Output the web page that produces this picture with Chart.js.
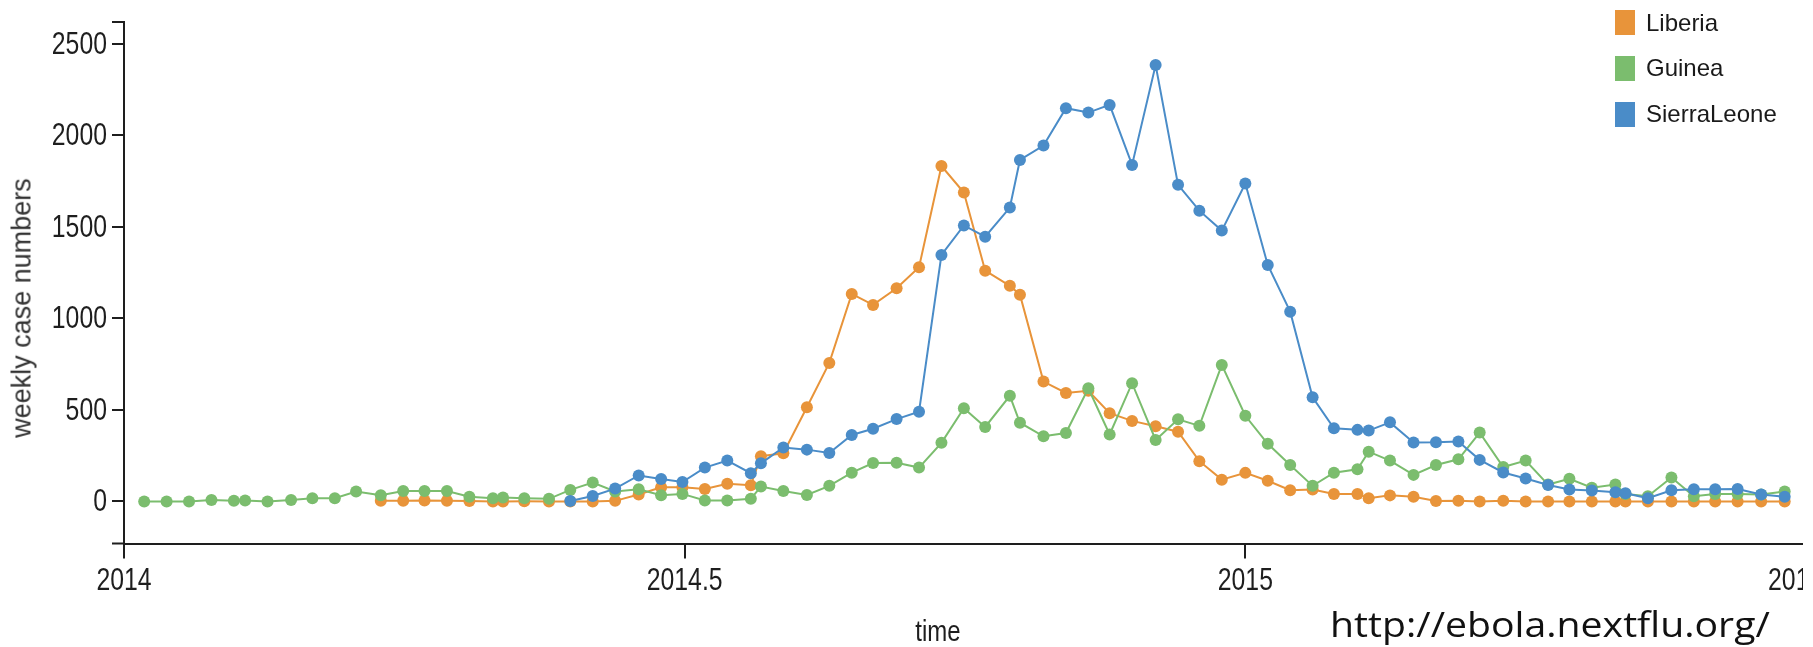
<!DOCTYPE html>
<html>
<head>
<meta charset="utf-8">
<title>Weekly Ebola case numbers</title>
<script src="https://cdn.jsdelivr.net/npm/chart.js@4.4.1/dist/chart.umd.min.js"></script>
<style>
  html, body { margin: 0; padding: 0; background: #fff; overflow: hidden; }
  #stage { position: relative; width: 1813px; height: 647px; }
  #clip { position: absolute; left: 0; top: 0; width: 1803px; height: 647px; overflow: hidden; }
  #plot { position: absolute; left: 0; top: 0; width: 1860px; height: 647px; }
  #ytitle {
    position: absolute; left: 22px; top: 308px;
    transform: translate(-50%, -50%) rotate(-90deg);
    font: 27px "Liberation Sans", Arial, sans-serif; color: #333; white-space: nowrap;
  }
  #xtitle {
    position: absolute; left: 938px; top: 614px; transform: translateX(-50%) scaleX(0.8);
    font: 30px "Liberation Sans", Arial, sans-serif;
    color: #1e1e1e; white-space: nowrap;
  }
  #legend { position: absolute; left: 1615px; top: 10px; }
  .item {
    position: absolute; left: 0; display: flex; align-items: center; height: 25px;
    font: 24px "Liberation Sans", Arial, sans-serif; color: #1a1a1a; white-space: nowrap;
  }
  .swatch { width: 20px; height: 25px; margin-right: 11px; flex: none; }
  #source {
    position: absolute; left: 1330px; top: 600px; transform-origin: left top; transform: scaleX(1.12);
    font: 35px "Open Sans", "Noto Sans", sans-serif; color: #111; white-space: nowrap;
  }
</style>
</head>
<body>
<div id="stage">
  <div id="clip"><div id="plot"><canvas id="chart"></canvas></div></div>
  <div id="ytitle">weekly case numbers</div>
  <div id="xtitle">time</div>
  <div id="legend"></div>
  <div id="source">http://ebola.nextflu.org/</div>
</div>
<script>
// Report dates (decimal years) shared by all three countries
const weeks = [
  2014.018, 2014.038, 2014.058, 2014.078, 2014.098, 2014.108, 2014.128, 2014.149, 2014.168, 2014.188,
  2014.207, 2014.229, 2014.249, 2014.268, 2014.288, 2014.308, 2014.329, 2014.338, 2014.357, 2014.379,
  2014.398, 2014.418, 2014.438, 2014.459, 2014.479, 2014.498, 2014.518, 2014.538, 2014.559, 2014.568,
  2014.588, 2014.609, 2014.629, 2014.649, 2014.668, 2014.689, 2014.709, 2014.729, 2014.749, 2014.768,
  2014.790, 2014.799, 2014.820, 2014.840, 2014.860, 2014.879, 2014.899, 2014.920, 2014.940, 2014.959,
  2014.979, 2015.000, 2015.020, 2015.040, 2015.060, 2015.079, 2015.100, 2015.110, 2015.129, 2015.150,
  2015.170, 2015.190, 2015.209, 2015.230, 2015.250, 2015.270, 2015.289, 2015.309, 2015.330, 2015.339,
  2015.359, 2015.380, 2015.400, 2015.419, 2015.439, 2015.460, 2015.481
];

// Weekly case counts per country (null = not yet reported)
const liberia = [
  null, null, null, null, null, null, null, null, null, null,
  null, 3, 4, 5, 3, 2, 0, 0, 1, 0,
  0, 0, 3, 38, 77, 77, 68, 97, 88, 247,
  263, 515, 757, 1134, 1074, 1165, 1280, 1833, 1688, 1261,
  1178, 1130, 655, 593, 605, 482, 440, 411, 381, 220,
  119, 156, 113, 61, 65, 41, 41, 17, 33, 26,
  2, 3, 0, 3, 0, 0, 0, 0, 0, 0,
  0, 0, 0, 0, 0, 0, 0
];
const guinea = [
  0, 0, 0, 8, 3, 5, 0, 8, 17, 17,
  54, 34, 57, 57, 57, 26, 17, 22, 17, 14,
  63, 103, 54, 66, 34, 41, 5, 5, 14, 81,
  57, 35, 85, 157, 210, 211, 185, 320, 509, 407,
  577, 430, 356, 374, 618, 366, 646, 336, 449, 413,
  746, 468, 315, 199, 85, 157, 176, 272, 223, 145,
  199, 230, 376, 188, 223, 92, 124, 75, 92, 40,
  28, 131, 28, 40, 40, 38, 54
];
const sierraLeone = [
  null, null, null, null, null, null, null, null, null, null,
  null, null, null, null, null, null, null, null, null, null,
  2, 30, 70, 142, 122, 106, 185, 223, 154, 208,
  295, 283, 265, 363, 397, 450, 490, 1347, 1508, 1447,
  1606, 1866, 1945, 2149, 2125, 2167, 1839, 2385, 1730, 1589,
  1480, 1737, 1292, 1037, 569, 400, 391, 387, 432, 322,
  323, 327, 227, 158, 125, 90, 65, 60, 50, 45,
  17, 61, 66, 66, 68, 38, 26
];

const seriesNames = ['Liberia', 'Guinea', 'SierraLeone'];
const seriesColors = ['#e8943a', '#7bbd6e', '#4a8cc8'];
const xTickValues = [2014, 2014.5, 2015, 2015.5];
const yTickValues = [0, 500, 1000, 1500, 2000, 2500];

const toPoints = (vals) => weeks
  .map((w, i) => (vals[i] === null ? null : { x: w, y: vals[i] }))
  .filter(p => p !== null);

const seriesValues = [liberia, guinea, sierraLeone];
const drawOrder = [3, 2, 1]; // Sierra Leone on top, Liberia underneath

const datasets = seriesNames.map((name, k) => ({
  label: name,
  data: toPoints(seriesValues[k]),
  borderColor: seriesColors[k],
  backgroundColor: seriesColors[k],
  pointBackgroundColor: seriesColors[k],
  pointBorderWidth: 0,
  pointRadius: 6,
  borderWidth: 2,
  tension: 0,
  order: drawOrder[k]
}));

// Legend built from the same names and colours
const legendEl = document.getElementById('legend');
const legendTops = [0, 45.5, 91.5];
seriesNames.forEach((name, k) => {
  const row = document.createElement('div');
  row.className = 'item';
  row.style.top = legendTops[k] + 'px';
  const sw = document.createElement('span');
  sw.className = 'swatch';
  sw.style.background = seriesColors[k];
  const tx = document.createElement('span');
  tx.textContent = name;
  row.appendChild(sw);
  row.appendChild(tx);
  legendEl.appendChild(row);
});

const AXIS = '#1e1e1e';
const TICK_FONT = '31px "Liberation Sans", Arial, sans-serif';
const CONDENSE = 0.8;

// Short end caps on the vertical axis, like a d3 domain path,
// plus condensed tick labels placed at the scales' own tick pixels.
const axisDecor = {
  id: 'axisDecor',
  afterDraw(chart) {
    const { ctx, chartArea } = chart;
    const xs = chart.scales.x, ys = chart.scales.y;
    ctx.save();
    ctx.strokeStyle = AXIS;
    ctx.lineWidth = 2;
    ctx.beginPath();
    ctx.moveTo(chartArea.left - 12, chartArea.top);
    ctx.lineTo(chartArea.left, chartArea.top);
    ctx.moveTo(chartArea.left - 12, chartArea.bottom);
    ctx.lineTo(chartArea.left, chartArea.bottom);
    ctx.stroke();

    ctx.fillStyle = AXIS;
    ctx.font = TICK_FONT;
    ctx.textBaseline = 'alphabetic';
    ctx.textAlign = 'right';
    ys.ticks.forEach(t => {
      const py = ys.getPixelForValue(t.value);
      ctx.save();
      ctx.translate(chartArea.left - 17, py + 10);
      ctx.scale(CONDENSE, 1);
      ctx.fillText(String(t.value), 0, 0);
      ctx.restore();
    });
    ctx.textAlign = 'center';
    xs.ticks.forEach(t => {
      const px = xs.getPixelForValue(t.value);
      ctx.save();
      ctx.translate(px, chartArea.bottom + 46);
      ctx.scale(CONDENSE, 1);
      ctx.fillText(String(t.value), 0, 0);
      ctx.restore();
    });
    ctx.restore();
  }
};

new Chart(document.getElementById('chart'), {
  type: 'line',
  data: { datasets },
  plugins: [axisDecor],
  options: {
    responsive: true,
    maintainAspectRatio: false,
    animation: false,
    events: [],
    layout: { padding: { top: 22, right: 54, bottom: 0, left: 0 } },
    plugins: { legend: { display: false }, tooltip: { enabled: false } },
    scales: {
      x: {
        type: 'linear',
        min: 2014,
        max: 2015.5,
        afterBuildTicks: (s) => { s.ticks = xTickValues.map(v => ({ value: v })); },
        afterFit: (s) => { s.height = 103.5; s.paddingLeft = 0; s.paddingRight = 0; },
        ticks: { display: false },
        grid: { drawOnChartArea: false, drawTicks: true, tickLength: 15, color: AXIS, lineWidth: 2 },
        border: { display: true, color: AXIS, width: 2 }
      },
      y: {
        type: 'linear',
        min: -230,
        max: 2620,
        afterBuildTicks: (s) => { s.ticks = yTickValues.map(v => ({ value: v })); },
        afterFit: (s) => { s.width = 124; s.paddingTop = 0; s.paddingBottom = 0; },
        ticks: { display: false },
        grid: { drawOnChartArea: false, drawTicks: true, tickLength: 12, color: AXIS, lineWidth: 2 },
        border: { display: true, color: AXIS, width: 2 }
      }
    }
  }
});
</script>
</body>
</html>
